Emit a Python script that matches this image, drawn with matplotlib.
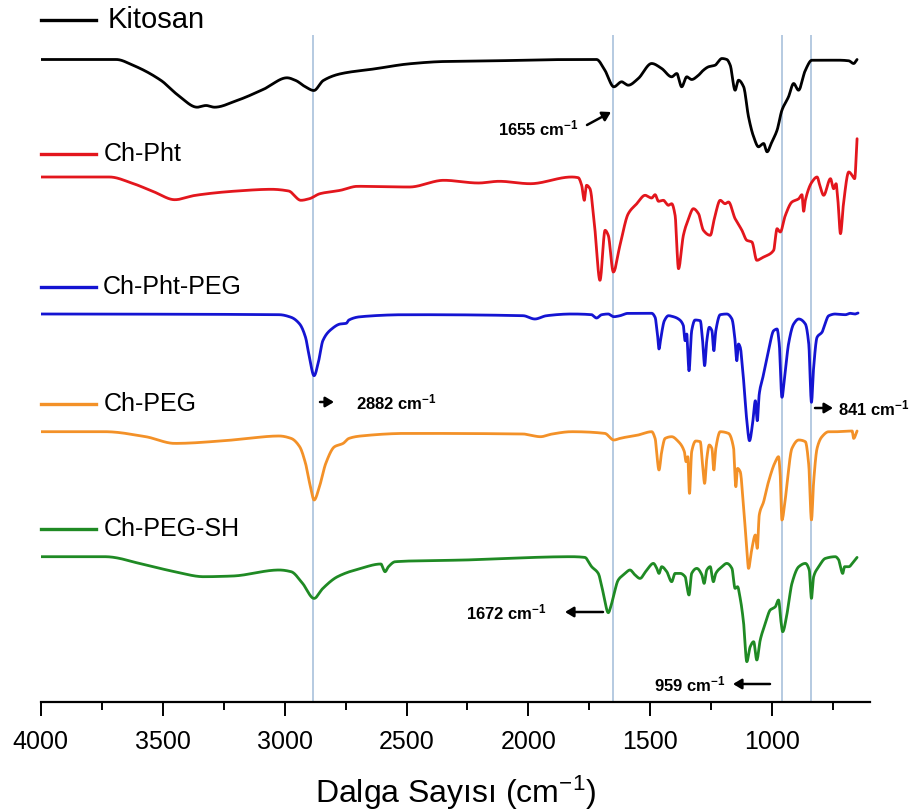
import numpy as np
import matplotlib
matplotlib.use("Agg")
import matplotlib.pyplot as plt
from matplotlib.transforms import Affine2D
from matplotlib.lines import Line2D
from matplotlib.ticker import MultipleLocator

plt.rcParams['font.family'] = ['Liberation Sans', 'DejaVu Sans']
plt.rcParams['mathtext.fontset'] = 'custom'
plt.rcParams['mathtext.rm'] = 'Liberation Sans'
plt.rcParams['mathtext.it'] = 'Liberation Sans'
plt.rcParams['mathtext.bf'] = 'Liberation Sans:bold'

# ---------------- data (wavenumber cm-1, band depth in arbitrary units) -------------
series_names = ["Kitosan", "Ch-Pht", "Ch-Pht-PEG", "Ch-PEG", "Ch-PEG-SH"]
series_colors = ["#000000", "#e3161d", "#1414d2", "#f39128", "#1f8a24"]

kitosan_wn = [4000, 3690, 3619, 3506, 3435, 3358, 3322, 3287, 3195, 3082, 2990, 2954, 2912, 2880,
              2841, 2771, 2629, 2488, 2347, 2064, 1823, 1721, 1687, 1650, 1618, 1591, 1550, 1495,
              1454, 1413, 1392, 1372, 1351, 1331, 1303, 1283, 1262, 1235, 1207, 1187, 1173, 1153,
              1139, 1118, 1098, 1077, 1057, 1036, 1022, 1002, 981, 961, 934, 913, 893, 865, 838,
              728, 687, 667, 653]
kitosan_depth = [0, 0, 6, 21, 36, 47.7, 46, 47.7, 41, 29.3, 18.3, 21, 27.7, 31,
                 21, 14.3, 9.3, 4.3, 2, 1, 0, 0, 10.7, 27.3, 22.3, 25.7, 19, 4,
                 9, 17.3, 14, 27.3, 17.3, 20, 15.7, 10.7, 7.3, 5.7, -1, 0, 5.7, 30.7,
                 20.7, 27.3, 57.3, 77.3, 87.3, 84, 92.3, 82.3, 70.7, 50.7, 37.3, 24, 30.7, 10.7, 0.7,
                 0.7, 1.3, 4, 0]

chpht_wn = [4000, 3718, 3619, 3534, 3450, 3365, 3195, 3054, 2983, 2933, 2898, 2855, 2771, 2700,
            2488, 2347, 2205, 2120, 1993, 1823, 1796, 1782, 1771, 1762, 1748, 1728, 1707, 1686,
            1673, 1652, 1625, 1591, 1556, 1522, 1495, 1481, 1467, 1447, 1426, 1413, 1399, 1385,
            1365, 1344, 1324, 1303, 1283, 1255, 1235, 1214, 1194, 1180, 1153, 1125, 1105, 1084,
            1064, 1036, 995, 981, 968, 947, 920, 892, 879, 872, 865, 838, 817, 804, 790, 762,
            749, 739, 731, 721, 708, 687, 673, 663, 653]
chpht_depth = [0, 0, 6.7, 15, 22.7, 18.3, 14, 12.3, 14, 23.3, 21.7, 16.7, 13.3, 9.3,
               10, 3.3, 6, 4.3, 6.7, 0, 0.7, 8.3, 23.3, 8.3, 11.7, 51.7, 103.3, 53.3,
               58.3, 95, 68.3, 36.7, 26.7, 18.3, 21, 17.7, 24.3, 23.3, 28.3, 26.7, 38.3, 91.7,
               58.3, 41.7, 31.7, 36.7, 53.3, 58.3, 38.3, 23.3, 26.7, 25, 41.7, 53.3, 63.3, 65,
               83.3, 80, 73.3, 51.7, 55, 38.3, 25, 21.7, 17.7, 34.3, 23.3, 5, 0, 10, 18.3, 1.7,
               11.7, 6.7, 25, 56.7, 25, -5, -1.7, 1.7, -38.3]

chphtpeg_wn = [4000, 3022, 2973, 2938, 2914, 2898, 2879, 2860, 2843, 2807, 2772, 2747, 2736, 2688,
               2498, 2022, 1974, 1926, 1823, 1741, 1721, 1700, 1673, 1650, 1625, 1591, 1495, 1481,
               1470, 1465, 1457, 1443, 1426, 1406, 1385, 1365, 1358, 1351, 1342, 1331, 1317, 1296,
               1285, 1278, 1269, 1259, 1248, 1240, 1232, 1214, 1187, 1166, 1153, 1146, 1139, 1132,
               1118, 1105, 1094, 1080, 1070, 1062, 1054, 1036, 1016, 995, 981, 972, 961, 947,
               934, 913, 892, 865, 851, 840, 831, 817, 797, 769, 742, 701, 680, 660, 649]
chphtpeg_depth = [0, 0.7, 3.3, 10, 23.3, 43.3, 61.7, 46.7, 26.7, 15, 10, 9.3, 6, 2.7,
                  0.7, 1.7, 5, 1.7, 0, 0.7, 4, 0.7, 0, 2.7, 1.7, -0.7, -0.7, 3.3,
                  23.3, 35, 23.3, 6.7, 1.7, 2.7, 5, 11.7, 26.7, 20, 56.7, 16.7, 6, 6.7,
                  30, 51.7, 26.7, 13.3, 16.7, 36.7, 16.7, 0.7, 0, 5, 26.7, 46.7, 30, 33.3,
                  66.7, 106.7, 126.7, 106.7, 86.7, 106.7, 80, 60, 36.7, 16.7, 15, 30, 83.3, 56.7,
                  30, 10, 5, 10, 30, 88.3, 53.3, 23.3, 18.3, 1.7, 0, 0.7, -0.7, 0, -1]

chpeg_wn = [4000, 3736, 3569, 3450, 3212, 3022, 2973, 2938, 2914, 2891, 2879, 2855, 2831, 2795,
            2760, 2736, 2688, 2498, 2022, 1951, 1903, 1823, 1687, 1650, 1625, 1591, 1550, 1495,
            1481, 1465, 1454, 1440, 1413, 1385, 1361, 1354, 1347, 1340, 1331, 1314, 1296, 1285,
            1278, 1269, 1259, 1248, 1240, 1232, 1214, 1180, 1159, 1150, 1143, 1132, 1118, 1105,
            1098, 1084, 1070, 1062, 1054, 1036, 1016, 988, 975, 968, 961, 947, 920, 892, 865,
            851, 840, 831, 817, 797, 769, 728, 673, 667, 653]
chpeg_depth = [0, 0, 5, 11.7, 8.3, 4.3, 6.7, 15, 31.7, 58.3, 68.3, 53.3, 31.7, 15,
               11.7, 6.7, 4.3, 1.7, 2.3, 5, 2.3, 0, 1.7, 8.3, 6.7, 5, 3.3, 0,
               6.7, 38.3, 20, 6.7, 5, 10, 20, 30, 25, 61.7, 20, 9.3, 10, 36.7,
               51.7, 26.7, 13.3, 16.7, 38.3, 16.7, 0, 1.7, 16.7, 55, 36.7, 40, 76.7, 116.7,
               136.7, 116.7, 103.3, 116.7, 83.3, 70, 50, 30, 25, 43.3, 88.3, 66.7, 16.7, 8.3, 10,
               33.3, 88.3, 50, 16.7, 5, 0, 0, -0.7, 6.7, -0.7]

chpegsh_wn = [4000, 3736, 3569, 3450, 3331, 3212, 3022, 2973, 2926, 2879, 2843, 2783, 2688, 2605,
              2588, 2574, 2546, 2260, 1823, 1769, 1741, 1714, 1693, 1673, 1659, 1632, 1604, 1584,
              1563, 1543, 1515, 1488, 1474, 1465, 1454, 1433, 1413, 1399, 1378, 1358, 1342, 1331,
              1310, 1289, 1280, 1269, 1255, 1242, 1232, 1207, 1187, 1166, 1153, 1143, 1132, 1118,
              1105, 1091, 1077, 1064, 1050, 1029, 1009, 988, 975, 964, 958, 940, 920, 892, 865,
              849, 840, 831, 810, 783, 742, 728, 712, 704, 687, 667, 653]
chpegsh_depth = [0, 0, 8.3, 15, 20, 19.3, 13.3, 15, 26.7, 41.7, 31.7, 20, 11.7, 7.3,
                 15, 10, 5, 3.3, 0, 0.7, 10, 16.7, 36.7, 56, 46.7, 23.3, 16.7, 13.3,
                 18.3, 21.7, 13.3, 6.7, 11.7, 16.7, 10, 15, 25, 16.7, 16.7, 20, 38.3, 16.7,
                 11.7, 18.3, 26.7, 13.3, 10, 25, 16.7, 10, 6.7, 11.7, 31.7, 30, 41.7, 66.7,
                 105, 90, 85, 103.3, 83.3, 66.7, 53.3, 50, 43.3, 66.7, 75, 56.7, 26.7, 10, 6.7,
                 13.3, 41.7, 20, 10, 1.7, 0, 3.3, 16.7, 10, 10, 5, 0.7]

marker_lines = [2882, 1655, 959, 841]
x_ticks = [4000, 3500, 3000, 2500, 2000, 1500, 1000]

series_wn = [kitosan_wn, chpht_wn, chphtpeg_wn, chpeg_wn, chpegsh_wn]
series_depth = [kitosan_depth, chpht_depth, chphtpeg_depth, chpeg_depth, chpegsh_depth]


def pchip_curve(x, y, n=4000):
    """Monotone piecewise-cubic (PCHIP) curve through the read points."""
    x = np.asarray(x, float)
    y = np.asarray(y, float)
    order = np.argsort(x)
    x, y = x[order], y[order]
    h = np.diff(x)
    delta = np.diff(y) / h
    d = np.zeros_like(y)
    for k in range(1, len(x) - 1):
        if delta[k - 1] * delta[k] <= 0:
            d[k] = 0.0
        else:
            w1 = 2 * h[k] + h[k - 1]
            w2 = h[k] + 2 * h[k - 1]
            d[k] = (w1 + w2) / (w1 / delta[k - 1] + w2 / delta[k])
    d[0], d[-1] = delta[0], delta[-1]
    xs = np.linspace(x[0], x[-1], n)
    idx = np.clip(np.searchsorted(x, xs) - 1, 0, len(x) - 2)
    t = (xs - x[idx]) / h[idx]
    h00 = 2 * t**3 - 3 * t**2 + 1
    h10 = t**3 - 2 * t**2 + t
    h01 = -2 * t**3 + 3 * t**2
    h11 = t**3 - t**2
    ys = h00 * y[idx] + h10 * h[idx] * d[idx] + h01 * y[idx + 1] + h11 * h[idx] * d[idx + 1]
    return xs, ys


# ---------------- layout -------------
W, H = 909, 811
stack_offsets = [59.5, 177, 314, 431.7, 556.7]   # vertical stacking of traces
AX_BOTTOM = 702

fig = plt.figure(figsize=(W / 100, H / 100), dpi=100)
ax = fig.add_axes([40.6 / W, (H - AX_BOTTOM) / H, (870 - 40.6) / W, AX_BOTTOM / H])
px = Affine2D().scale(1 / W, -1 / H).translate(0, 1) + fig.transFigure

ax.set_xlim(4000, 600)
ax.set_ylim(AX_BOTTOM, 0)

ax.vlines(marker_lines, AX_BOTTOM, 35, color="#a9c1dc", lw=1.2, zorder=1)

for wn, d, off, c in zip(series_wn, series_depth, stack_offsets, series_colors):
    assert len(wn) == len(d)
    xs, ys = pchip_curve(wn, d)
    ax.plot(xs, off + ys, color=c, lw=2.0, zorder=3,
            solid_joinstyle="round", solid_capstyle="round")

for sp in ["top", "left", "right"]:
    ax.spines[sp].set_visible(False)
ax.spines["bottom"].set_linewidth(1.6)
ax.set_yticks([])
ax.set_xticks(x_ticks)
ax.xaxis.set_minor_locator(MultipleLocator(250))
ax.tick_params(axis="x", which="major", direction="out", length=10, width=1.4,
               labelsize=18, pad=10)
ax.tick_params(axis="x", which="minor", direction="out", length=6, width=1.4)
ax.set_xlabel("Dalga Sayısı (cm$^{-1}$)", fontsize=23, labelpad=14)

# legend-like labels
legend_pos = [(20, 108, 21), (154, 104, 18), (287, 103, 18), (404, 104, 18), (529, 104, 18)]
for name, c, (ly, tx, fs) in zip(series_names, series_colors, legend_pos):
    fig.add_artist(Line2D([41, 96], [ly, ly], color=c, lw=2.4, transform=px))
    fig.text(tx, ly, name, transform=px, fontsize=fs, va="center", ha="left")

# annotations
def arrow(tail, head):
    ax.annotate("", xy=head, xytext=tail, xycoords=px, textcoords=px,
                arrowprops=dict(arrowstyle="-|>,head_length=0.5,head_width=0.3",
                                color="black", lw=1.8, shrinkA=0, shrinkB=0))

bold = dict(fontsize=12, fontweight="bold", va="center", transform=px)
fig.text(579, 128, "1655 cm$^{\\mathbf{-1}}$", ha="right", **bold)
arrow((587, 125), (611, 112))
fig.text(356, 402, "2882 cm$^{\\mathbf{-1}}$", ha="left", **bold)
arrow((320, 402), (334, 402))
fig.text(838, 408, "841 cm$^{\\mathbf{-1}}$", ha="left", **bold)
arrow((815, 408), (833, 408))
fig.text(546, 612, "1672 cm$^{\\mathbf{-1}}$", ha="right", **bold)
arrow((603, 612), (565, 612))
fig.text(725, 684, "959 cm$^{\\mathbf{-1}}$", ha="right", **bold)
arrow((770, 684), (733, 684))

fig.savefig("out.png", dpi=100)
